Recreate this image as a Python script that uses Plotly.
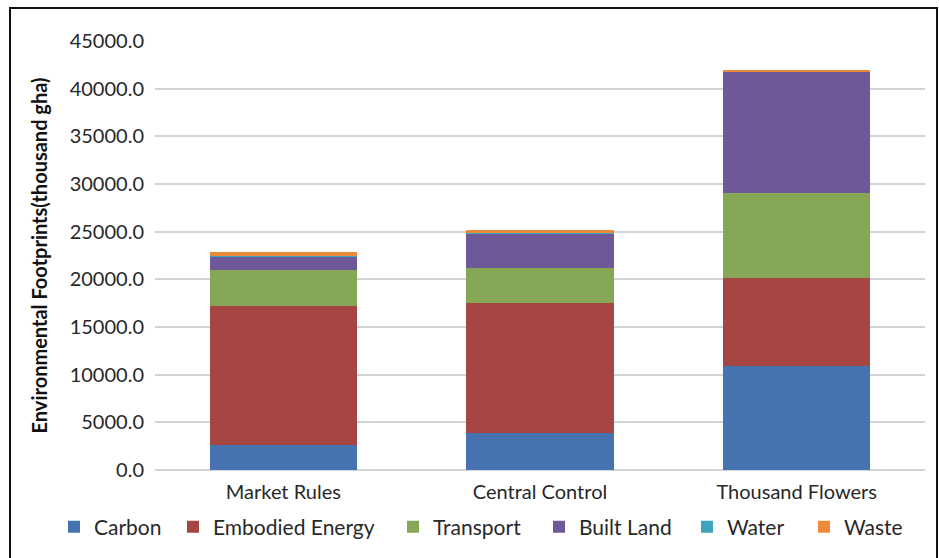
import plotly.graph_objects as go

categories = ["Market Rules", "Central Control", "Thousand Flowers"]
carbon = [2600, 3900, 10900]
embodied_energy = [14600, 13600, 9200]
transport = [3800, 3700, 9000]
built_land = [1400, 3600, 12650]
water = [30, 30, 30]
waste = [470, 300, 150]

series_names = ["Carbon", "Embodied Energy", "Transport", "Built Land", "Water", "Waste"]
series_values = [carbon, embodied_energy, transport, built_land, water, waste]
colors = ["#4672B0", "#A54643", "#86A755", "#6F5898", "#3FA4BE", "#EA8A3A"]
legend_px = [69, 188, 408, 554, 702, 819]  # left edge of each legend square

font_family = "Lato, 'Open Sans', sans-serif"
txt = "#282828"

W, H = 939, 558
ml, mr, mt, mb = 155, 14, 41, 87
pw, ph = W - ml - mr, H - mt - mb

def px_x(p):
    return (p - ml) / pw

def px_y(p):
    return (H - mb - p) / ph

fig = go.Figure()
legends = {}
for i, (name, vals, col) in enumerate(zip(series_names, series_values, colors)):
    lname = "legend" if i == 0 else f"legend{i+1}"
    fig.add_trace(go.Bar(x=categories, y=vals, name=name, marker_color=col,
                         marker_line_width=0, width=0.573, legend=lname))
    legends[lname] = dict(x=px_x(legend_px[i] - 15), xanchor="left",
                          y=px_y(527), yanchor="middle",
                          bgcolor="rgba(0,0,0,0)", itemwidth=30,
                          font=dict(size=21, color=txt, family=font_family))

fig.update_layout(
    width=W, height=H,
    barmode="stack",
    plot_bgcolor="white", paper_bgcolor="white",
    margin=dict(l=ml, r=mr, t=mt, b=mb),
    font=dict(family=font_family, size=20, color=txt),
    xaxis=dict(showline=False, ticks="", ticklabelstandoff=8,
               tickfont=dict(size=20, color=txt)),
    yaxis=dict(range=[0, 45000], dtick=5000, tickformat=".1f",
               showgrid=True, gridcolor="#D0D4D8", gridwidth=2,
               zeroline=True, zerolinecolor="#D0D4D8", zerolinewidth=2,
               ticks="", ticklabelstandoff=10, tickfont=dict(size=20, color=txt),
               title=dict(text="<b>Environmental Footprints(thousand gha)</b>",
                          font=dict(size=20, color="#111111"), standoff=16)),
    showlegend=True,
    **legends,
)

# outer frame of the picture
fig.add_shape(type="rect", xref="paper", yref="paper",
              x0=px_x(10), x1=px_x(937), y0=px_y(620), y1=px_y(8),
              line=dict(color="#111111", width=2), layer="below")

fig.write_html("out.html", config={"displayModeBar": False},
               post_script="document.body.style.margin='0';")
